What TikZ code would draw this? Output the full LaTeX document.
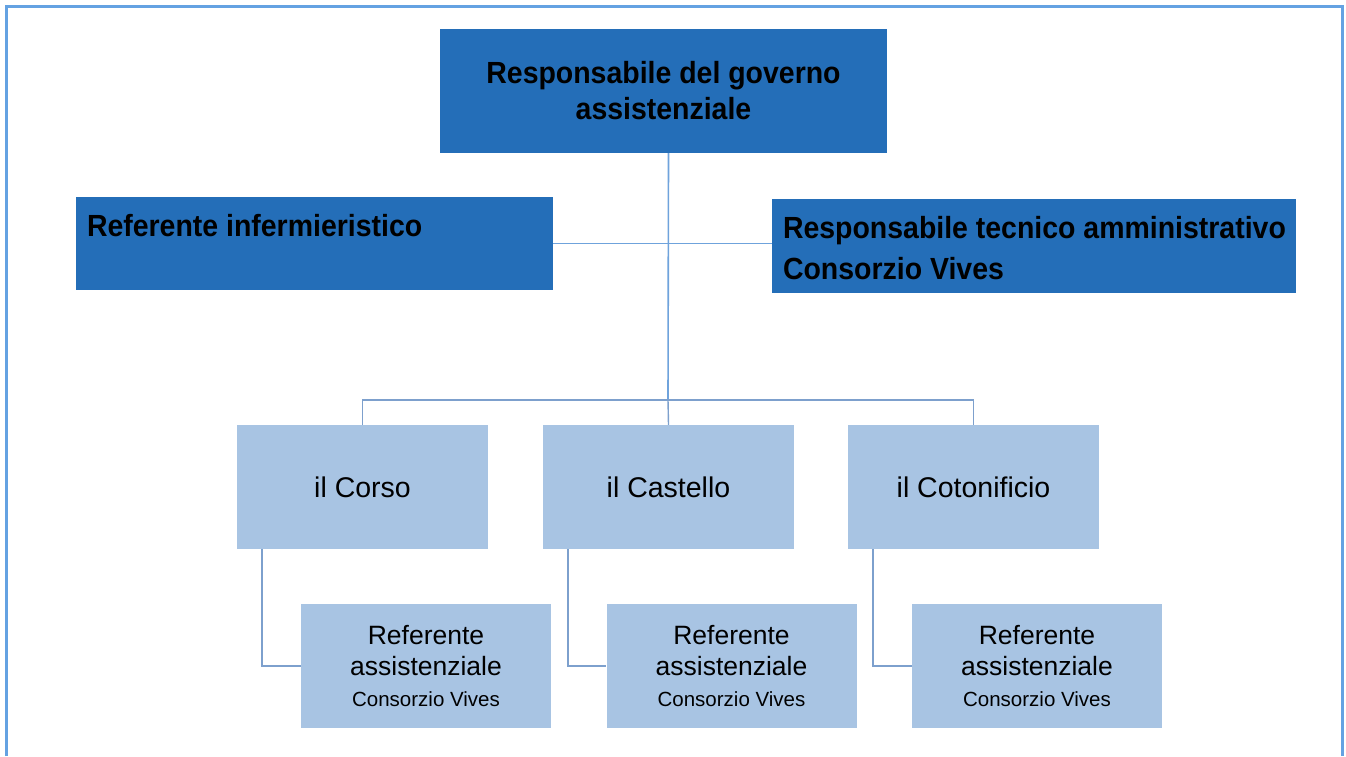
\documentclass[tikz,border=0pt]{standalone}
\usepackage{fontspec}
\setmainfont{Liberation Sans}
\newfontfamily\condbold[FakeStretch=0.93,BoldFont={Liberation Sans Bold}]{Liberation Sans}
\definecolor{darkbox}{RGB}{36,110,184}
\definecolor{lightbox}{RGB}{168,196,227}
\definecolor{linkA}{RGB}{111,163,220}
\definecolor{linkB}{RGB}{125,160,205}
\definecolor{frame}{RGB}{100,162,226}
\tikzset{
  darkbox/.style={fill=darkbox, draw=none, inner sep=0pt, font=\condbold\fontsize{30.6}{36}\selectfont\bfseries, text=black},
  boldtext/.style={inner sep=0pt, text=black, font=\condbold\fontsize{30.6}{36}\selectfont\bfseries},
  sitebox/.style={fill=lightbox, draw=none, minimum width=251, minimum height=124, inner sep=0pt, font=\fontsize{28.5}{34}\selectfont, text=black},
  refbox/.style={fill=lightbox, draw=none, minimum width=250, minimum height=124, inner sep=0pt, align=center, font=\fontsize{26.5}{31}\selectfont, text=black},
  toplink/.style={draw=linkA, line width=1.6pt},
  sublink/.style={draw=linkB, line width=1.4pt},
}
\begin{document}
\begin{tikzpicture}[x=1pt,y=-1pt]
\useasboundingbox (0,0) rectangle (1346,756);
\fill[white] (0,0) rectangle (1346,756);
\draw[frame, line width=3pt] (6,756) -- (6,6) -- (1342,6) -- (1342,756);

% top row
\node[darkbox, minimum width=447, minimum height=124, align=center] (top) at (663.5,91) {Responsabile del governo\\assistenziale};
\node[darkbox, minimum width=477, minimum height=93] (inf) at (314.5,243.5) {};
\node[boldtext, anchor=base west] (inflabel) at ([xshift=11pt]inf.west |- 0,236) {Referente infermieristico};
\node[darkbox, minimum width=524, minimum height=94] (tec) at (1034,246) {};
\node[boldtext, anchor=west, align=left, font=\condbold\fontsize{30.6}{41}\selectfont\bfseries] (teclabel) at ([xshift=11pt]tec.west |- 0,248) {Responsabile tecnico amministrativo\\Consorzio Vives};

% sites
\node[sitebox] (corso) at (362.5,487) {il Corso};
\node[sitebox] (castello) at (668.5,487) {il Castello};
\node[sitebox] (coto) at (973.5,487) {il Cotonificio};

% referents
\node[refbox] (r1) at (426,666) {Referente\\assistenziale\\{\fontsize{20.5}{30}\selectfont Consorzio Vives}};
\node[refbox] (r2) at (731.5,666) {Referente\\assistenziale\\{\fontsize{20.5}{30}\selectfont Consorzio Vives}};
\node[refbox] (r3) at (1037,666) {Referente\\assistenziale\\{\fontsize{20.5}{30}\selectfont Consorzio Vives}};

% connectors
\coordinate (bar) at (668,400);
\draw[toplink] (top.south -| castello.north) -- (bar);
\draw[toplink] (inf.east) -- (inf.east -| tec.west);
\draw[sublink] (bar) -- (castello.north);
\draw[sublink] (corso.north) |- (bar) -| (coto.north);
\draw[sublink] ([xshift=25pt]corso.south west) |- (r1.west);
\draw[sublink] ([xshift=25pt]castello.south west) |- (r2.west);
\draw[sublink] ([xshift=25pt]coto.south west) |- (r3.west);
\end{tikzpicture}
\end{document}
